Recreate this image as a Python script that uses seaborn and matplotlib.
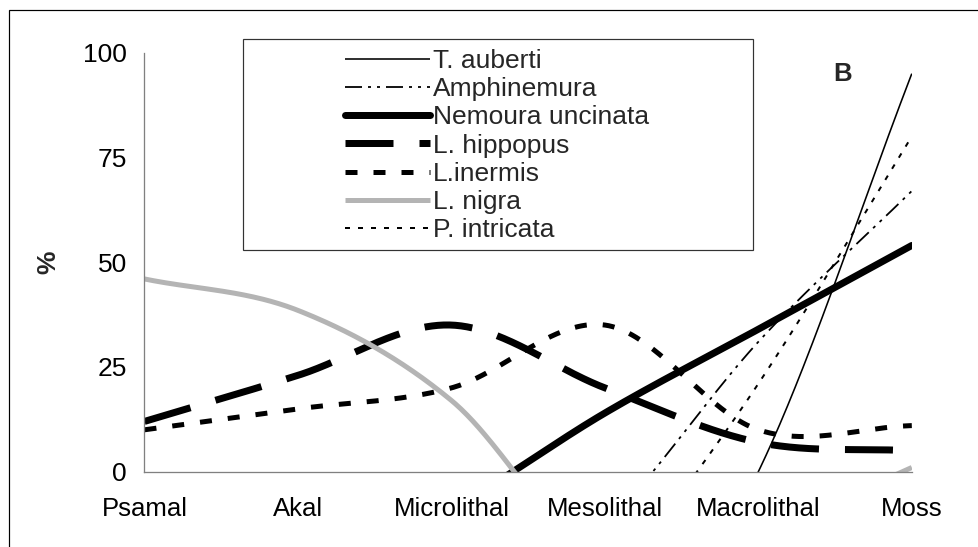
import numpy as np
import pandas as pd
import matplotlib
matplotlib.use("Agg")
import matplotlib.pyplot as plt
import seaborn as sns
from matplotlib.patches import Rectangle

# ---- data (values below 0 are hidden by the axis) ----
categories = ["Psamal", "Akal", "Microlithal", "Mesolithal", "Macrolithal", "Moss"]
t_auberti = [-57, -57, -57, -57, 0, 95]
amphinemura = [-80, -70, -43, -13, 31, 67]
nemoura_uncinata = [-45, -27, -9, 14, 34, 54]
l_hippopus = [12, 23, 35, 20, 7, 5]
l_inermis = [10, 15, 20, 35, 10, 11]
l_nigra = [46, 38.5, 17, -22, -15, 1]
p_intricata = [-130, -80, -80, -30, 21, 80]

series_names = ["T. auberti", "Amphinemura", "Nemoura uncinata", "L. hippopus",
                "L.inermis", "L. nigra", "P. intricata"]
series_values = [t_auberti, amphinemura, nemoura_uncinata, l_hippopus,
                 l_inermis, l_nigra, p_intricata]

sns.set_theme(style="white")
plt.rcParams["font.family"] = ["Liberation Sans", "DejaVu Sans"]
plt.rcParams["lines.scale_dashes"] = False

PX = 0.72  # points per pixel at dpi 100

# line styles: (color, width px, dash pattern px or None, capstyle)
styles = {
    "T. auberti": ("black", 1.6, None, "butt"),
    "Amphinemura": ("black", 1.8, (17, 6, 3, 6, 3, 6), "butt"),
    "Nemoura uncinata": ("black", 7.0, None, "round"),
    "L. hippopus": ("black", 7.0, (48, 26), "butt"),
    "L.inermis": ("black", 5.0, (12, 16), "butt"),
    "L. nigra": ("#b4b4b4", 5.0, None, "butt"),
    "P. intricata": ("black", 2.0, (5, 8), "butt"),
}


def smooth(vals, n=80):
    """Excel-like smoothed line (cardinal Bezier through category points)."""
    y = np.asarray(vals, float)
    yp = np.concatenate([[2 * y[0] - y[1]], y, [2 * y[-1] - y[-2]]])
    t = np.linspace(0, 1, n)
    xs, ys = [], []
    for i in range(len(y) - 1):
        p0, p1, p2, p3 = yp[i], yp[i + 1], yp[i + 2], yp[i + 3]
        c1 = p1 + (p2 - p0) / 6
        c2 = p2 - (p3 - p1) / 6
        b = (1 - t) ** 3 * p1 + 3 * (1 - t) ** 2 * t * c1 + 3 * (1 - t) * t ** 2 * c2 + t ** 3 * p2
        xs.append(i + t)
        ys.append(b)
    return np.concatenate(xs), np.concatenate(ys)


rows = []
for name, vals in zip(series_names, series_values):
    xs, ys = smooth(vals)
    rows.append(pd.DataFrame({"x": xs, "y": ys, "series": name}))
df = pd.concat(rows, ignore_index=True)

W, H = 979, 547
fig = plt.figure(figsize=(W / 100, H / 100), dpi=100)
left, right, top, bottom = 144.5, 911.8, 52.7, 471.7
ax = fig.add_axes([left / W, 1 - bottom / H, (right - left) / W, (bottom - top) / H])

handles = []
for name in series_names:
    color, lw, dash, cap = styles[name]
    sub = df[df["series"] == name]
    sns.lineplot(data=sub, x="x", y="y", ax=ax, sort=False, estimator=None,
                 color=color, linewidth=lw * PX, label=name, legend=False)
    line = ax.lines[-1]
    if dash is not None:
        line.set_dashes([d * PX for d in dash])
        line.set_dash_capstyle(cap)
    else:
        line.set_solid_capstyle(cap)
    handles.append(line)

ax.set_xlim(0, len(categories) - 1)
ax.set_ylim(0, 100)
ax.set_xticks(range(len(categories)))
ax.set_xticklabels(categories)
ax.set_yticks([0, 25, 50, 75, 100])
ax.set_xlabel("")
ax.set_ylabel("")
if ax.get_legend() is not None:
    ax.get_legend().remove()
for s in ["top", "right"]:
    ax.spines[s].set_visible(False)
for s in ["left", "bottom"]:
    ax.spines[s].set_color("#808080")
    ax.spines[s].set_linewidth(1.3 * PX)
ax.tick_params(axis="both", direction="inout", length=17 * PX, width=1 * PX,
               color="black", labelcolor="black")
ax.tick_params(axis="x", pad=17 * PX, labelsize=18.5)
ax.tick_params(axis="y", pad=9 * PX, labelsize=19)
ax.set_facecolor("white")

# y label and panel letter
fig.text(48 / W, 1 - 262 / H, "%", rotation=90, ha="center", va="center",
         fontsize=19, fontweight="bold")
fig.text(843 / W, 1 - 74 / H, "B", ha="center", va="center",
         fontsize=18.5, fontweight="bold")

# legend box (Excel style, wide frame with empty left part)
lx0, lx1, ly0, ly1 = 243, 753, 39, 250
fig.patches.append(Rectangle((lx0 / W, 1 - ly1 / H), (lx1 - lx0) / W, (ly1 - ly0) / H,
                             transform=fig.transFigure, facecolor="white",
                             edgecolor="#333333", linewidth=1.2 * PX, zorder=5))
leg = fig.legend(handles=handles, labels=series_names, loc="upper left",
                 bbox_to_anchor=(345 / W, 1 - 49 / H), bbox_transform=fig.transFigure,
                 frameon=False, fontsize=19, handlelength=85 / 26.4,
                 handletextpad=3 / 26.4, labelspacing=0.16, borderpad=0,
                 borderaxespad=0)
leg.set_zorder(10)

# outer frame (left and top edges visible)
fig.patches.append(Rectangle((9 / W, -0.2), 1.5, 1 - 10 / H + 0.2,
                             transform=fig.transFigure, facecolor="none",
                             edgecolor="black", linewidth=1.2 * PX, zorder=1))

fig.savefig("out.png", dpi=100)
